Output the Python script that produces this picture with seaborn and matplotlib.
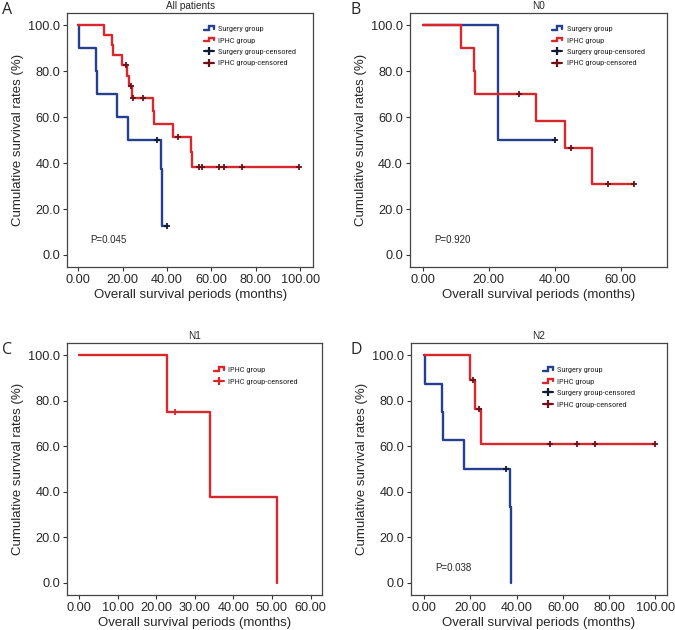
import numpy as np
import pandas as pd
import matplotlib
matplotlib.use('Agg')
import matplotlib.pyplot as plt
import seaborn as sns
from matplotlib.legend_handler import HandlerBase
from matplotlib.lines import Line2D
from matplotlib.ticker import FormatStrFormatter
from matplotlib import font_manager as fm

# dados (tempo do evento, sobrevida depois do evento)
a_surg_t = [0.5, 8.0, 8.3, 17.3, 22.6, 37.2, 37.7]
a_surg_s = [90, 80, 70, 60, 50, 37.5, 12.5]
a_surg_ct = [35.6, 40.2]
a_surg_cs = [50, 12.5]

a_iphc_t = [11.6, 15.3, 15.6, 19.8, 21.8, 22.7, 24.4, 33.7, 34.0, 42.9, 50.8, 51.1]
a_iphc_s = [95.7, 91.3, 87.0, 82.6, 78.0, 73.4, 68.5, 62.8, 57.0, 51.4, 45.0, 38.5]
a_iphc_ct = [21.4, 24.0, 24.8, 29.2, 45.1, 54.3, 55.9, 63.6, 65.9, 73.7, 99.7]
a_iphc_cs = [82.6, 73.4, 68.5, 68.5, 51.4, 38.5, 38.5, 38.5, 38.5, 38.5, 38.5]

b_surg_t = [22.9]
b_surg_s = [50]
b_surg_ct = [40.1]
b_surg_cs = [50]

b_iphc_t = [11.6, 15.4, 15.9, 34.3, 43.1, 51.2]
b_iphc_s = [90, 80, 70, 58.3, 46.7, 31.1]
b_iphc_ct = [29.2, 45.0, 56.1, 63.9]
b_iphc_cs = [70, 46.7, 31.1, 31.1]

c_iphc_t = [22.7, 34.0, 51.3]
c_iphc_s = [75, 37.5, 0]
c_iphc_ct = [24.9]
c_iphc_cs = [75]

d_surg_t = [0.2, 7.8, 8.3, 17.0, 36.9, 37.6]
d_surg_s = [87.5, 75, 62.5, 50, 33.3, 0]
d_surg_ct = [35.4]
d_surg_cs = [50]

d_iphc_t = [19.9, 22.0, 24.4]
d_iphc_s = [88.9, 76.2, 61.0]
d_iphc_ct = [21.3, 23.8, 54.4, 65.9, 73.7, 99.9]
d_iphc_cs = [88.9, 76.2, 61, 61, 61, 61]

blue = '#24408f'
red = '#d8272d'
blue_c = '#121a33'
red_c = '#6e1018'


def steps(t, s, ct):
    xs, ys = [0], [100]
    prev = 100
    for ti, si in zip(t, s):
        xs += [ti, ti]
        ys += [prev, si]
        prev = si
    if ct and max(ct) > xs[-1]:
        xs.append(max(ct))
        ys.append(prev)
    return pd.DataFrame({'x': xs, 'y': ys})


class StepHandler(HandlerBase):
    def create_artists(self, legend, orig_handle, xd, yd, w, h, fs, trans):
        x = np.array([0.05, 0.45, 0.45, 0.85, 0.85]) * w - xd
        y = np.array([0.2, 0.2, 0.85, 0.85, 0.45]) * h - yd
        ln = Line2D(x, y, color=orig_handle.get_color(), lw=1.7,
                    solid_joinstyle='miter', transform=trans)
        return [ln]


class CensHandler(HandlerBase):
    def create_artists(self, legend, orig_handle, xd, yd, w, h, fs, trans):
        y = 0.5 * h - yd
        ln = Line2D([0.05 * w - xd, 0.85 * w - xd], [y, y], color=orig_handle.get_color(),
                    lw=1.5, transform=trans)
        mk = Line2D([0.45 * w - xd], [y], marker='+', ms=6, mew=1.6,
                    color=orig_handle.get_color(), transform=trans)
        return [ln, mk]


sns.set_theme(style='ticks')
plt.rcParams['font.family'] = ['Liberation Sans', 'DejaVu Sans']

installed = {f.name for f in fm.fontManager.ttflist}
narrow = [f for f in ['Liberation Sans Narrow', 'Roboto Condensed', 'Archivo Narrow',
                      'Arimo', 'Liberation Sans'] if f in installed][0]
leg_size = 6 if narrow != 'Liberation Sans' else 5.2

fig = plt.figure(figsize=(6.75, 6.3), dpi=100)

panels = [
    ('A', 'All patients', [0.0993, 0.576, 0.365, 0.403], (-5, 106), [0, 20, 40, 60, 80, 100],
     [(a_surg_t, a_surg_s, a_surg_ct, a_surg_cs, blue, blue_c),
      (a_iphc_t, a_iphc_s, a_iphc_ct, a_iphc_cs, red, red_c)], 'P=0.045', (0.53, 0.975),
     (2, 2)),
    ('B', 'N0', [0.607, 0.576, 0.381, 0.403], (-4, 74), [0, 20, 40, 60],
     [(b_surg_t, b_surg_s, b_surg_ct, b_surg_cs, blue, blue_c),
      (b_iphc_t, b_iphc_s, b_iphc_ct, b_iphc_cs, red, red_c)], 'P=0.920', (0.53, 0.975),
     (351, 2)),
    ('C', 'N1', [0.0993, 0.0556, 0.378, 0.400], (-3.1, 63), [0, 10, 20, 30, 40, 50, 60],
     [(c_iphc_t, c_iphc_s, c_iphc_ct, c_iphc_cs, red, red)], None, (0.55, 0.93),
     (2, 342)),
    ('D', 'N2', [0.609, 0.0556, 0.379, 0.400], (-5.7, 105), [0, 20, 40, 60, 80, 100],
     [(d_surg_t, d_surg_s, d_surg_ct, d_surg_cs, blue, blue_c),
      (d_iphc_t, d_iphc_s, d_iphc_ct, d_iphc_cs, red, red_c)], 'P=0.038', (0.49, 0.93),
     (351, 342)),
]

for letter, title, rect, xlim, xticks, groups, ptxt, legpos, lpos in panels:
    ax = fig.add_axes(rect)
    for t, s, ct, cs, col, ccol in groups:
        df = steps(t, s, ct)
        sns.lineplot(data=df, x='x', y='y', estimator=None, sort=False,
                     color=col, lw=1.7, ax=ax)
        sns.scatterplot(x=ct, y=cs, marker='+', s=16, linewidth=1.3,
                        color=ccol, ax=ax, zorder=4)
    ax.set_xlim(*xlim)
    ax.set_ylim(-5.3, 105.3)
    ax.set_xticks(xticks)
    ax.set_yticks([0, 20, 40, 60, 80, 100])
    ax.xaxis.set_major_formatter(FormatStrFormatter('%.2f'))
    ax.yaxis.set_major_formatter(FormatStrFormatter('%.1f'))
    ax.tick_params(direction='out', length=3, width=0.8, labelsize=9.2, pad=2, color='#333333')
    for sp in ax.spines.values():
        sp.set_color('#444444')
        sp.set_linewidth(0.9)
    ax.set_xlabel('Overall survival periods (months)', fontsize=9.5, labelpad=2)
    ax.set_ylabel('Cumulative survival rates (%)', fontsize=9.5, labelpad=3)
    ax.set_title(title, fontsize=7.2, pad=3)
    if ptxt:
        ax.text(xlim[0] + (xlim[1] - xlim[0]) * 0.095, 6.5, ptxt, fontsize=7, va='center')
    if len(groups) == 2:
        hs = [Line2D([], [], color=blue), Line2D([], [], color=red),
              Line2D([], [], color=blue_c), Line2D([], [], color=red_c)]
        labs = ['Surgery group', 'IPHC group', 'Surgery group-censored', 'IPHC group-censored']
        hmap = {hs[0]: StepHandler(), hs[1]: StepHandler(),
                hs[2]: CensHandler(), hs[3]: CensHandler()}
    else:
        hs = [Line2D([], [], color=red), Line2D([], [], color=red)]
        labs = ['IPHC group', 'IPHC group-censored']
        hmap = {hs[0]: StepHandler(), hs[1]: CensHandler()}
    ax.legend(hs, labs, handler_map=hmap, loc='upper left', bbox_to_anchor=legpos,
              frameon=False, prop={'family': narrow, 'size': leg_size},
              handlelength=1.5, handletextpad=0.3, labelspacing=0.55, borderpad=0.2)
    fig.text(lpos[0] / 675, 1 - lpos[1] / 630, letter, fontsize=11.5,
             family=['Open Sans', 'DejaVu Sans'], va='top', ha='left')

fig.savefig('out.png', dpi=100)
